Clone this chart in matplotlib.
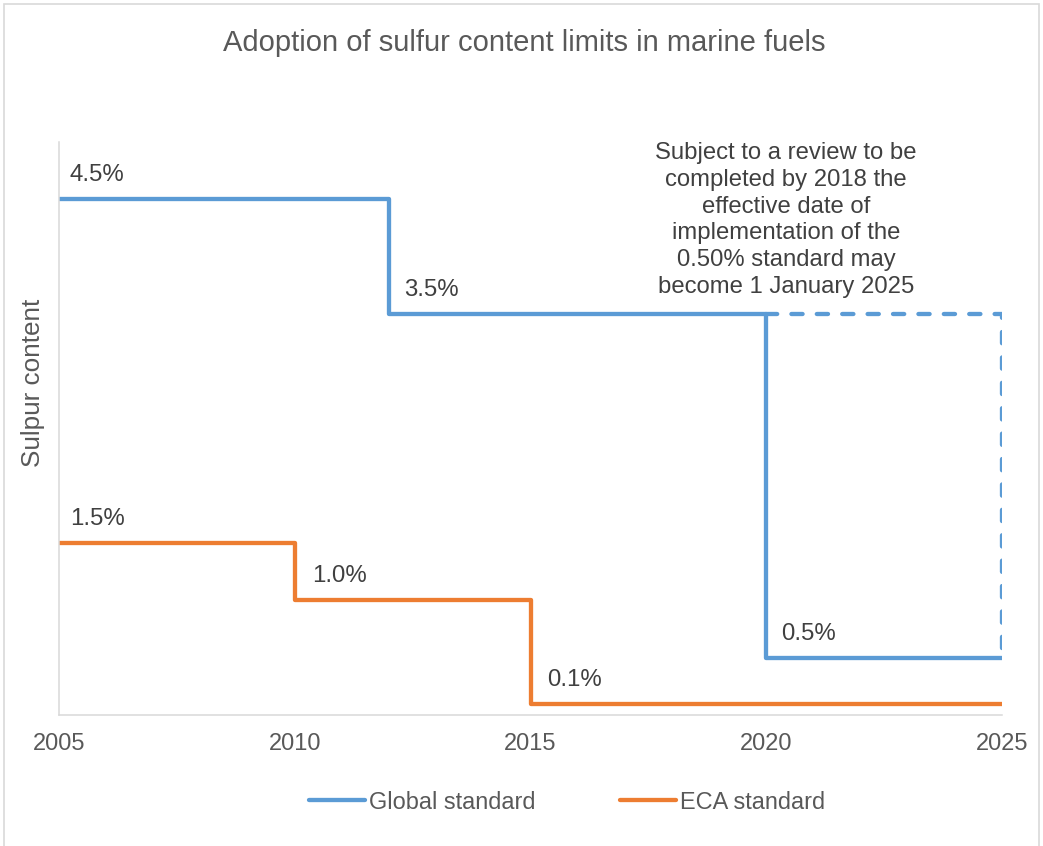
import matplotlib.pyplot as plt
from matplotlib.patches import Rectangle

plt.rcParams['font.family'] = ['Liberation Sans', 'DejaVu Sans']

# step data: value holds from that year until the next
global_years = [2005, 2012, 2020, 2025]
global_vals = [4.5, 3.5, 0.5, 0.5]
# possible later start of the 0.50% standard (dashed)
review_years = [2020, 2025, 2025]
review_vals = [3.5, 3.5, 0.5]
eca_years = [2005, 2010, 2015, 2025]
eca_vals = [1.5, 1.0, 0.1, 0.1]

global_labels = ['4.5%', '3.5%', '0.5%']
eca_labels = ['1.5%', '1.0%', '0.1%']
xticks = [2005, 2010, 2015, 2020, 2025]

note = ('Subject to a review to be\ncompleted by 2018 the\neffective date of\n'
        'implementation of the\n0.50% standard may\nbecome 1 January 2025')

blue = '#5B9BD5'
orange = '#ED7D31'
grey_text = '#595959'
axis_grey = '#D9D9D9'

fig = plt.figure(figsize=(10.43, 8.46), dpi=100)
ax = fig.add_axes([59 / 1043, 1 - 715 / 846, (1002 - 59) / 1043, (715 - 142) / 846])

ax.step(global_years, global_vals, where='post', color=blue, lw=3.1,
        solid_capstyle='round', solid_joinstyle='round', label='Global standard')
ax.plot(review_years, review_vals, color=blue, lw=3.1, linestyle=(0, (2.6, 3.3)),
        dash_capstyle='round', dash_joinstyle='round')
ax.step(eca_years, eca_vals, where='post', color=orange, lw=3.1,
        solid_capstyle='round', solid_joinstyle='round', label='ECA standard')

# data labels above the start of each segment
for x, y, t in zip(global_years[:-1], global_vals[:-1], global_labels):
    ax.annotate(t, (x, y), xytext=(10 if x == 2005 else 15, 24), textcoords='offset pixels',
                ha='left', va='center', fontsize=17.3, color='#404040')
for x, y, t in zip(eca_years[:-1], eca_vals[:-1], eca_labels):
    ax.annotate(t, (x, y), xytext=(11 if x == 2005 else 17, 24), textcoords='offset pixels',
                ha='left', va='center', fontsize=17.3, color='#404040')

ax.text(2020.42, 4.32, note, ha='center', va='center', fontsize=17.2,
        color='#404040', linespacing=1.28)

ax.set_xlim(2005, 2025)
ax.set_ylim(0, 5)
ax.set_xticks(xticks)
ax.set_xticklabels([str(x) for x in xticks])
ax.set_yticks([])
ax.tick_params(axis='x', length=0, pad=13, labelsize=17, labelcolor=grey_text)
for s in ['top', 'right']:
    ax.spines[s].set_visible(False)
for s in ['left', 'bottom']:
    ax.spines[s].set_color(axis_grey)
    ax.spines[s].set_linewidth(1.1)

fig.text(33 / 1043, 1 - 383 / 846, 'Sulpur content', rotation=90, ha='center',
         va='center', fontsize=18.8, color=grey_text)
fig.text(524 / 1043, 1 - 43 / 846, 'Adoption of sulfur content limits in marine fuels',
         ha='center', va='center', fontsize=21, color=grey_text)

leg = fig.legend(loc='center', bbox_to_anchor=(567 / 1043, 1 - 802 / 846), ncol=2,
                 frameon=False, fontsize=16.9, handlelength=2.4, handletextpad=0.17,
                 columnspacing=3.6)
for t in leg.get_texts():
    t.set_color(grey_text)

fig.patches.append(Rectangle((4 / 1043, -0.01), 1035 / 1043, 1.01 - 4 / 846,
                             transform=fig.transFigure, fill=False,
                             edgecolor=axis_grey, lw=1.2))

fig.savefig('out.png', dpi=100)
